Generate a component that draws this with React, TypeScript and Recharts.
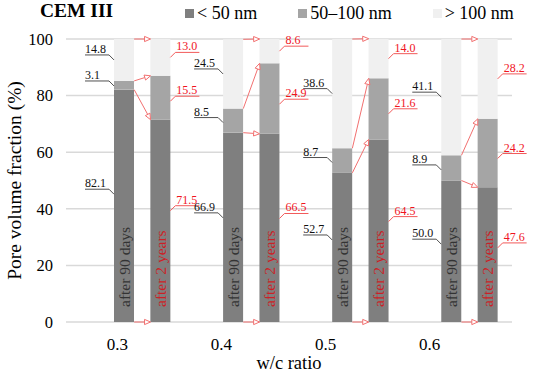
import React from "react";
import {
  BarChart,
  Bar,
  XAxis,
  YAxis,
  CartesianGrid,
  Legend,
  LabelList,
  ReferenceLine,
} from "recharts";

const SERIF = '"Liberation Serif", "Times New Roman", serif';

const ratios = ["0.3", "0.4", "0.5", "0.6"];
const ratioTicks = [0.3, 0.4, 0.5, 0.6];
const yTicks = [0, 20, 40, 60, 80, 100];

// after 90 days
const fine90 = [82.1, 66.9, 52.7, 50.0];
const mid90 = [3.1, 8.5, 8.7, 8.9];
const coarse90 = [14.8, 24.5, 38.6, 41.1];
// after 2 years
const fine2y = [71.5, 66.5, 64.5, 47.6];
const mid2y = [15.5, 24.9, 21.6, 24.2];
const coarse2y = [13.0, 8.6, 14.0, 28.2];

const seriesNames = ["< 50 nm", "50–100 nm", "> 100 nm"];
const ageLabels = ["after 90 days", "after 2 years"];

const COLORS = {
  fine: "#7f7f7f",
  mid: "#a5a5a5",
  coarse: "#f0f0f0",
  grid: "#d9d9d9",
  red: "#f0141e",
  redRule: "#f25a5a",
  arrow: "#f27070",
  ageDark: "#333333",
  ageRed: "#cc1f26",
};
const seriesColors = [COLORS.fine, COLORS.mid, COLORS.coarse];

const BAR = 20;
// where along a segment (from its top) the leader line starts
const ANCHOR = [0.45, 0.58, 0.5];

type Key = "fine" | "mid" | "coarse";
type Row = { slot: string; age: number | null; fine?: number; mid?: number; coarse?: number };

const rows: Row[] = [];
ratios.forEach((r, i) => {
  rows.push({ slot: `${r}-90d`, age: 0, fine: fine90[i], mid: mid90[i], coarse: coarse90[i] });
  rows.push({ slot: `${r}-2y`, age: 1, fine: fine2y[i], mid: mid2y[i], coarse: coarse2y[i] });
  if (i < ratios.length - 1) rows.push({ slot: `gap-${i}`, age: null });
});

const bounds = (f: number, m: number, c: number) => [0, f, f + m, f + m + c];

const arrows = ratios.flatMap((r, i) => {
  const a = bounds(fine90[i], mid90[i], coarse90[i]);
  const b = bounds(fine2y[i], mid2y[i], coarse2y[i]);
  return a.map((v, k) => [
    { x: `${r}-90d`, y: v },
    { x: `${r}-2y`, y: b[k] },
  ]);
});

// label value carries the age of the bar with it: "age|value"
const tagged = (key: Key) => (d: Row) => (d[key] == null ? undefined : `${d.age}|${d[key]}`);
const untag = (v: any) => {
  const [age, val] = String(v).split("|");
  return { age: Number(age), val: Number(val) };
};

function ArrowShape(props: any) {
  const { x1, y1, x2, y2 } = props;
  const sx = x1 + BAR / 2;
  const ex = x2 - BAR / 2;
  const ang = Math.atan2(y2 - y1, ex - sx);
  const L = 6;
  const W = 2.6;
  const bx = ex - L * Math.cos(ang);
  const by = y2 - L * Math.sin(ang);
  const p1 = `${bx - W * Math.sin(ang)},${by + W * Math.cos(ang)}`;
  const p2 = `${bx + W * Math.sin(ang)},${by - W * Math.cos(ang)}`;
  return (
    <g>
      <line x1={sx} y1={y1} x2={bx} y2={by} stroke={COLORS.arrow} strokeWidth={1} />
      <polygon points={`${ex},${y2} ${p1} ${p2}`} fill="#fff" stroke={COLORS.arrow} strokeWidth={1} />
    </g>
  );
}

function box(props: any) {
  const vb = props.viewBox ?? props;
  const top = Math.min(vb.y, vb.y + vb.height);
  return { x: vb.x, width: vb.width, top, h: Math.abs(vb.height) };
}

const valueLabel = (part: number) => (props: any) => {
  if (props.value == null) return null;
  const { age, val } = untag(props.value);
  const { x, width, top, h } = box(props);
  const ay = top + h * ANCHOR[part];
  const later = age === 1;
  const edge = later ? x + width : x;
  const dir = later ? 1 : -1;
  const kx = edge + dir * 5;
  const ky = ay - 5;
  const ux = kx + dir * 24;
  const tx = later ? kx + 1 : ux;
  return (
    <g>
      <polyline
        points={`${edge},${ay} ${kx},${ky} ${ux},${ky}`}
        fill="none"
        stroke={later ? COLORS.redRule : "#505050"}
        strokeWidth={1}
      />
      <text x={tx} y={ky - 2} fontSize={12} fill={later ? COLORS.red : "#111"} fontFamily={SERIF}>
        {val.toFixed(1)}
      </text>
    </g>
  );
};

function AgeLabel(props: any) {
  if (props.value == null) return null;
  const { age } = untag(props.value);
  const { x, width, top, h } = box(props);
  const cx = x + width / 2;
  const by = top + h - 15;
  return (
    <text
      x={cx}
      y={by}
      transform={`rotate(-90 ${cx} ${by})`}
      dominantBaseline="central"
      fontSize={15.5}
      fontFamily={SERIF}
      fill={age === 1 ? COLORS.ageRed : COLORS.ageDark}
    >
      {ageLabels[age]}
    </text>
  );
}

function LegendBox() {
  return (
    <div style={{ position: "relative", width: 550, height: 30, fontFamily: SERIF, color: "#000" }}>
      <span style={{ position: "absolute", left: 40, top: 0, fontSize: 19.5, fontWeight: "bold" }}>CEM III</span>
      <div style={{ position: "absolute", left: 185, top: 3, display: "flex", gap: 41, fontSize: 18 }}>
        {seriesNames.map((n, i) => (
          <span key={n} style={{ display: "flex", alignItems: "center" }}>
            <span style={{ width: 9, height: 9, background: seriesColors[i], marginRight: 3, display: "inline-block" }} />
            {n}
          </span>
        ))}
      </div>
    </div>
  );
}

function YTitle(props: any) {
  const vb = props.viewBox;
  const cx = vb.x + 14;
  const cy = vb.y + vb.height / 2;
  return (
    <text
      x={cx}
      y={cy}
      transform={`rotate(-90 ${cx} ${cy})`}
      textAnchor="middle"
      dominantBaseline="central"
      fontSize={19.5}
      fontFamily={SERIF}
      fill="#000"
    >
      Pore volume fraction (%)
    </text>
  );
}

function XTitle(props: any) {
  const vb = props.viewBox;
  return (
    <text x={vb.x + vb.width / 2} y={vb.y + 47} textAnchor="middle" fontSize={18.5} fontFamily={SERIF} fill="#000">
      w/c ratio
    </text>
  );
}

export default function App() {
  return (
    <div
      style={{ position: "absolute", left: 0, top: 0, width: 550, height: 377, background: "#fff", fontFamily: SERIF }}
    >
      <BarChart width={550} height={377} data={rows} margin={{ top: 39, right: 38, bottom: 5, left: 0 }}>
        <CartesianGrid vertical={false} stroke={COLORS.grid} strokeWidth={1.5} />
        <XAxis dataKey="slot" hide height={0} padding={{ left: 40, right: 6 }} />
        <XAxis
          xAxisId="ratio"
          dataKey="ratioPos"
          type="number"
          scale="linear"
          domain={[0.2505, 0.6793]}
          allowDataOverflow
          ticks={ratioTicks}
          interval={0}
          tickFormatter={(v) => Number(v).toFixed(1)}
          axisLine={false}
          tickLine={false}
          tickSize={0}
          tickMargin={16}
          height={50}
          tick={{ fill: "#000", fontSize: 17, fontFamily: SERIF }}
          label={{ content: XTitle }}
        />
        <YAxis
          domain={[0, 100]}
          allowDataOverflow
          ticks={yTicks}
          width={66}
          axisLine={false}
          tickLine={false}
          tickSize={0}
          tickMargin={13}
          tick={{ fill: "#000", fontSize: 16.5, fontFamily: SERIF }}
          label={{ content: YTitle }}
        />
        <Legend
          verticalAlign="middle"
          wrapperStyle={{ top: 0, left: 0, width: 550 }}
          content={() => <LegendBox />}
        />
        <Bar dataKey="fine" stackId="s" name={seriesNames[0]} fill={COLORS.fine} barSize={BAR} isAnimationActive={false}>
          <LabelList dataKey={tagged("fine")} content={AgeLabel} />
          <LabelList dataKey={tagged("fine")} content={valueLabel(0)} />
        </Bar>
        <Bar dataKey="mid" stackId="s" name={seriesNames[1]} fill={COLORS.mid} barSize={BAR} isAnimationActive={false}>
          <LabelList dataKey={tagged("mid")} content={valueLabel(1)} />
        </Bar>
        <Bar dataKey="coarse" stackId="s" name={seriesNames[2]} fill={COLORS.coarse} barSize={BAR} isAnimationActive={false}>
          <LabelList dataKey={tagged("coarse")} content={valueLabel(2)} />
        </Bar>
        {arrows.map((seg, i) => (
          <ReferenceLine key={i} segment={seg} ifOverflow="visible" shape={ArrowShape} />
        ))}
      </BarChart>
    </div>
  );
}
